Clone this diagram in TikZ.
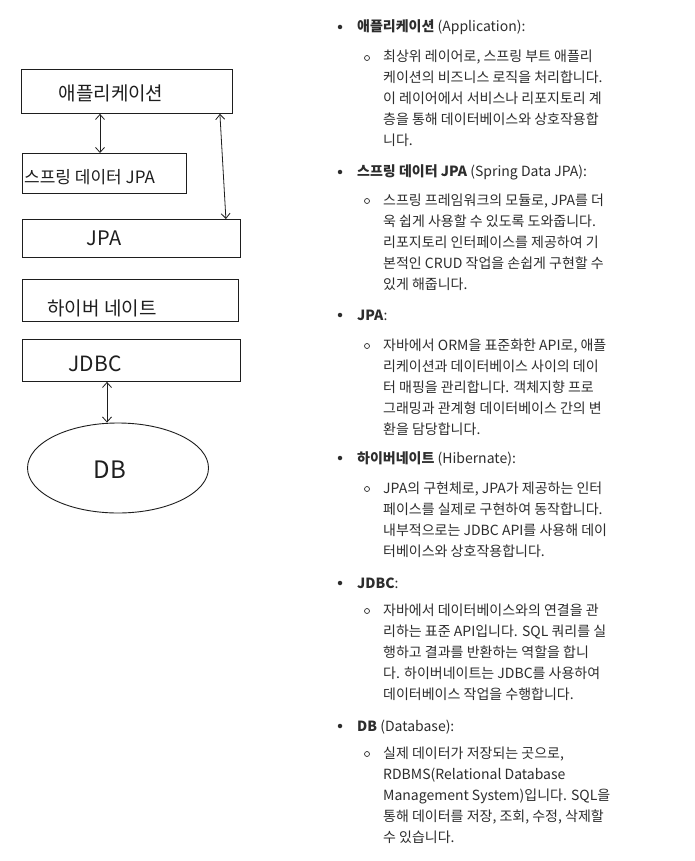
\documentclass[tikz,border=0pt]{standalone}
\usepackage{fontspec}
\setmainfont{Noto Sans CJK KR}
\usetikzlibrary{arrows.meta,shapes.geometric}
\definecolor{bodytext}{RGB}{45,45,45}
\definecolor{sketch}{RGB}{30,30,30}

\begin{document}
\begin{tikzpicture}[x=1pt, y=-1pt,
    layer/.style={rectangle, draw=sketch, line width=0.9pt, inner sep=0pt, anchor=north west},
    store/.style={ellipse, draw=sketch, line width=0.9pt, inner sep=0pt},
    hand/.style={text=sketch, inner sep=0pt, font=\fontsize{19}{19}\selectfont},
    arrow/.style={{Straight Barb[length=5pt,width=9pt]}-{Straight Barb[length=5pt,width=9pt]}, draw=sketch, line width=0.8pt},
    head/.style={anchor=base west, inner sep=0pt, text=bodytext, font=\fontsize{14}{21}\selectfont},
    desc/.style={anchor=base west, inner sep=0pt, text=bodytext, align=left, font=\fontsize{14}{21}\selectfont},
    dot/.style={circle, fill=bodytext, inner sep=0pt, minimum size=4.5pt},
    ring/.style={circle, draw=bodytext, line width=0.7pt, inner sep=0pt, minimum size=5pt}
]
\path[use as bounding box, fill=white] (0,0) rectangle (695,861);

% Application layer
\node[layer, minimum width=211pt, minimum height=44pt] (app) at (21,69) {};
\node[hand] (app_txt) at (111,93) {애플리케이션};

% Spring Data JPA
\node[layer, minimum width=164pt, minimum height=40pt] (sdj) at (22,153) {};
\node[hand, anchor=west, font=\fontsize{17}{17}\selectfont] (sdj_txt) at (24,177) {스프링 데이터 JPA};

% JPA
\node[layer, minimum width=218pt, minimum height=38pt] (jpa) at (22,219) {};
\node[hand, font=\fontsize{20}{20}\selectfont] (jpa_txt) at (104,238) {JPA};

% Hibernate
\node[layer, minimum width=216pt, minimum height=42pt] (hib) at (22,279) {};
\node[hand] (hib_txt) at (102,308) {하이버 네이트};

% JDBC
\node[layer, minimum width=218pt, minimum height=42pt] (jdbc) at (22,339) {};
\node[hand, font=\fontsize{21}{21}\selectfont] (jdbc_txt) at (95,364) {JDBC};

% Database
\node[store, minimum width=181pt, minimum height=90pt] (db) at (118,468) {};
\node[hand, font=\fontsize{24}{24}\selectfont] (db_txt) at (110,470) {DB};

% Arrows
\draw[arrow] ([xshift=79pt]app.south west) -- ([xshift=78pt]sdj.north west);
\draw[arrow] ([xshift=-13pt]app.south east) -- ([xshift=-15pt]jpa.north east);
\draw[arrow] ([xshift=85pt]jdbc.south west) -- ([xshift=-11pt]db.north);

% Application
\node[dot] (b1) at (340,27) {};
\node[head] (h1) at (357,32) {\textbf{애플리케이션} (Application):};
\node[ring] (c1) at (367,58) {};
\node[desc] (d1) at (383,146) {최상위 레이어로, 스프링 부트 애플리\\케이션의 비즈니스 로직을 처리합니다.\\이 레이어에서 서비스나 리포지토리 계\\층을 통해 데이터베이스와 상호작용합\\니다.};

% Spring Data JPA
\node[dot] (b2) at (340,172) {};
\node[head] (h2) at (357,177) {\textbf{스프링 데이터 JPA} (Spring Data JPA):};
\node[ring] (c2) at (367,201) {};
\node[desc] (d2) at (383,289) {스프링 프레임워크의 모듈로, JPA를 더\\욱 쉽게 사용할 수 있도록 도와줍니다.\\리포지토리 인터페이스를 제공하여 기\\본적인 CRUD 작업을 손쉽게 구현할 수\\있게 해줍니다.};

% JPA
\node[dot] (b3) at (340,315) {};
\node[head] (h3) at (357,320) {\textbf{JPA}:};
\node[ring] (c3) at (367,346) {};
\node[desc] (d3) at (383,434) {자바에서 ORM을 표준화한 API로, 애플\\리케이션과 데이터베이스 사이의 데이\\터 매핑을 관리합니다. 객체지향 프로\\그래밍과 관계형 데이터베이스 간의 변\\환을 담당합니다.};

% Hibernate
\node[dot] (b4) at (340,458) {};
\node[head] (h4) at (357,463) {\textbf{하이버네이트} (Hibernate):};
\node[ring] (c4) at (367,489) {};
\node[desc] (d4) at (383,556) {JPA의 구현체로, JPA가 제공하는 인터\\페이스를 실제로 구현하여 동작합니다.\\내부적으로는 JDBC API를 사용해 데이\\터베이스와 상호작용합니다.};

% JDBC
\node[dot] (b5) at (340,583) {};
\node[head] (h5) at (357,588) {\textbf{JDBC}:};
\node[ring] (c5) at (367,611) {};
\node[desc] (d5) at (383,699) {자바에서 데이터베이스와의 연결을 관\\리하는 표준 API입니다. SQL 쿼리를 실\\행하고 결과를 반환하는 역할을 합니\\다. 하이버네이트는 JDBC를 사용하여\\데이터베이스 작업을 수행합니다.};

% DB
\node[dot] (b6) at (340,726) {};
\node[head] (h6) at (357,731) {\textbf{DB} (Database):};
\node[ring] (c6) at (367,754) {};
\node[desc] (d6) at (383,842) {실제 데이터가 저장되는 곳으로,\\RDBMS(Relational Database\\Management System)입니다. SQL을\\통해 데이터를 저장, 조회, 수정, 삭제할\\수 있습니다.};

\end{tikzpicture}
\end{document}
